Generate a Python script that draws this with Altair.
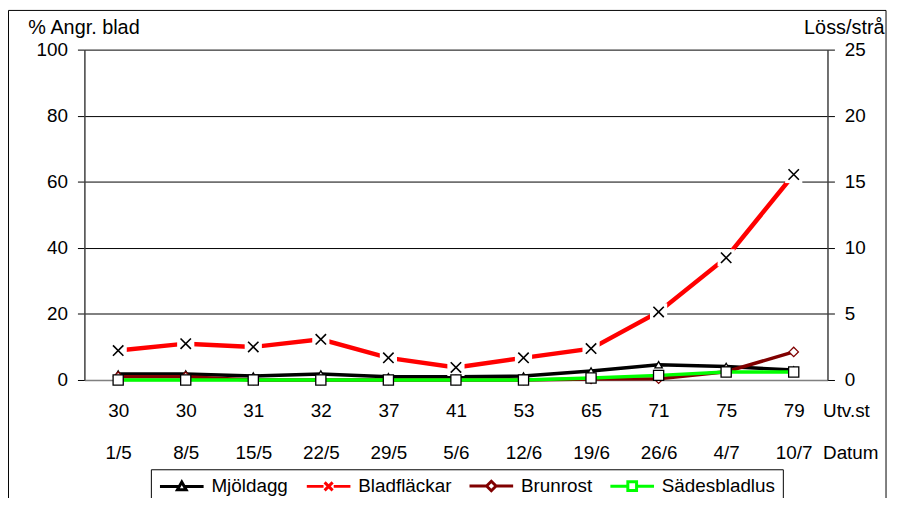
import altair as alt
import pandas as pd

# ---- data ----
utv = ["30", "30", "31", "32", "37", "41", "53", "65", "71", "75", "79"]
datum = ["1/5", "8/5", "15/5", "22/5", "29/5", "5/6", "12/6", "19/6", "26/6", "4/7", "10/7"]

mjoldagg = [1.8, 1.8, 1.2, 1.8, 1.0, 1.0, 1.2, 2.7, 4.6, 4.1, 3.0]
bladflackar = [8.9, 11.0, 10.0, 12.3, 6.7, 3.8, 6.7, 9.5, 20.6, 37.0, 62.2]
brunrost = [1.0, 1.0, 0.0, 0.0, 0.0, 0.0, 0.0, 0.3, 0.4, 2.5, 8.5]
sadesbladlus = [0.0, 0.0, 0.0, 0.0, 0.0, 0.0, 0.0, 0.15, 0.35, 0.6, 0.6]

series = ["Mjöldagg", "Bladfläckar", "Brunrost", "Sädesbladlus"]
colors = ["#000000", "#FF0000", "#800000", "#00FF00"]

keys = [f"{u}|{d}" for u, d in zip(utv, datum)]

rows = []
for name, vals in [("Mjöldagg", mjoldagg), ("Bladfläckar", bladflackar), ("Brunrost", brunrost)]:
    for k, v in zip(keys, vals):
        rows.append({"key": k, "series": name, "value": v})
df_left = pd.DataFrame(rows)
df_right = pd.DataFrame({"key": keys, "series": "Sädesbladlus", "lice": sadesbladlus})

W, H = 749, 333
FONT = "Liberation Sans"

x_enc = alt.X(
    "key:O", sort=keys,
    scale=alt.Scale(type="point", padding=0.5),
    axis=alt.Axis(
        labelExpr="split(datum.value, '|')", labelAngle=0, labelFontSize=19,
        labelLineHeight=42.5, labelBaseline="alphabetic", labelPadding=36.5,
        labelOverlap=False, labelFlush=False, labelColor="black",
        ticks=False, tickSize=0, domainColor="#808080", domainWidth=1.5, grid=False,
        title=["Utv.st", "Datum"], titleAngle=0, titleAlign="left", titleBaseline="alphabetic",
        titleX=744, titleY=36.5, titleFontSize=19, titleFontWeight="normal",
        titleLineHeight=42.5, titleColor="black",
    ),
)

y_left = alt.Y(
    "value:Q",
    scale=alt.Scale(domain=[0, 100], nice=False),
    axis=alt.Axis(
        values=[0, 20, 40, 60, 80, 100], grid=True, gridColor="black", gridWidth=1, gridOpacity=1,
        tickSize=7, tickColor="black", domainColor="#404040", domainWidth=1.5,
        labelFontSize=19, labelPadding=10, labelColor="black",
        title="% Angr. blad", titleAngle=0, titleAlign="left", titleBaseline="alphabetic",
        titleX=-57, titleY=-16, titleFontSize=20, titleFontWeight="normal", titleColor="black",
    ),
)

y_right = alt.Y(
    "lice:Q",
    scale=alt.Scale(domain=[0, 25], nice=False),
    axis=alt.Axis(
        orient="right", values=[0, 5, 10, 15, 20, 25], grid=False,
        tickSize=7, tickColor="black", domainColor="#404040", domainWidth=1.5,
        labelFontSize=19, labelPadding=10, labelColor="black",
        title="Löss/strå", titleAngle=0, titleAlign="right", titleBaseline="alphabetic",
        titleX=57, titleY=-16, titleFontSize=20, titleFontWeight="normal", titleColor="black",
    ),
)

base_left = alt.Chart(df_left)


def sel(name):
    return base_left.transform_filter(alt.datum.series == name)


X_PATH = "M-1,-1L1,1M-1,1L1,-1"

mj_line = sel("Mjöldagg").mark_line(color="black", strokeWidth=3.5).encode(x=x_enc, y=y_left)
mj_pts = sel("Mjöldagg").mark_point(shape="triangle-up", size=55, filled=True, fill="white",
                                    stroke="black", strokeWidth=1.3, opacity=1).encode(x=x_enc, y=y_left)
bl_line = sel("Bladfläckar").mark_line(color="#FF0000", strokeWidth=4.5).encode(x=x_enc, y=y_left)
bl_box = sel("Bladfläckar").mark_point(shape="square", size=300, filled=True, fill="white",
                                       strokeWidth=0, opacity=1).encode(x=x_enc, y=y_left)
bl_pts = sel("Bladfläckar").mark_point(shape=X_PATH, size=110, filled=False, stroke="black",
                                       strokeWidth=1.6, opacity=1).encode(x=x_enc, y=y_left)
br_line = sel("Brunrost").mark_line(color="#800000", strokeWidth=3.5).encode(x=x_enc, y=y_left)
br_pts = sel("Brunrost").mark_point(shape="diamond", size=90, filled=True, fill="white",
                                    stroke="#800000", strokeWidth=1.3, opacity=1).encode(x=x_enc, y=y_left)

legend_paths = [
    "M-1,0H1.66M2.34,0H5M1.4,0.45L2,-0.6L2.6,0.45Z",
    "M-1,0H1.3M2.7,0H5M1.45,-0.55L2.55,0.55M1.45,0.55L2.55,-0.55",
    "M-1,0H1.35M2.65,0H5M2,-0.65L2.65,0L2,0.65L1.35,0Z",
    "M-1,0H1.4M2.6,0H5M1.4,-0.6H2.6V0.6H1.4Z",
]
leg = alt.Legend(
    title=None, orient="none", legendX=67, legendY=423, direction="horizontal", columns=4,
    labelFontSize=19, labelColor="black", labelFont=FONT, symbolSize=215, symbolStrokeWidth=3,
    labelOffset=35, columnPadding=12, padding=7, strokeColor="black", fillColor="white",
    symbolOpacity=1, labelLimit=0,
)
legend_layer = base_left.transform_filter("false").mark_point(
    filled=False, opacity=1, strokeWidth=3, size=215
).encode(
    color=alt.Color("series:N", scale=alt.Scale(domain=series, range=colors), legend=leg),
    shape=alt.Shape("series:N", scale=alt.Scale(domain=series, range=legend_paths), legend=leg),
)

frame = alt.Chart(pd.DataFrame({"f": [0]})).mark_rect(
    fill=None, stroke="black", strokeWidth=1
).encode(
    x=alt.value(-76.5), x2=alt.value(808), y=alt.value(-39.5), y2=alt.value(470)
)

left = alt.layer(frame, mj_line, mj_pts, bl_line, bl_box, bl_pts, br_line, br_pts, legend_layer)

base_right = alt.Chart(df_right)
sb_line = base_right.mark_line(color="#00FF00", strokeWidth=3.5).encode(x=x_enc, y=y_right)
sb_pts = base_right.mark_point(shape="square", size=105, filled=True, fill="white",
                               stroke="black", strokeWidth=1.3, opacity=1).encode(x=x_enc, y=y_right)
right = alt.layer(sb_line, sb_pts)

chart = alt.layer(left, right).resolve_scale(y="independent").properties(
    width=W, height=H,
    autosize=alt.AutoSizeParams(type="none"),
    padding={"left": 77, "top": 40, "right": 62, "bottom": 117},
).configure(font=FONT).configure_view(stroke=None)

chart.save("out.html", embed_options={"renderer": "svg", "actions": False})
